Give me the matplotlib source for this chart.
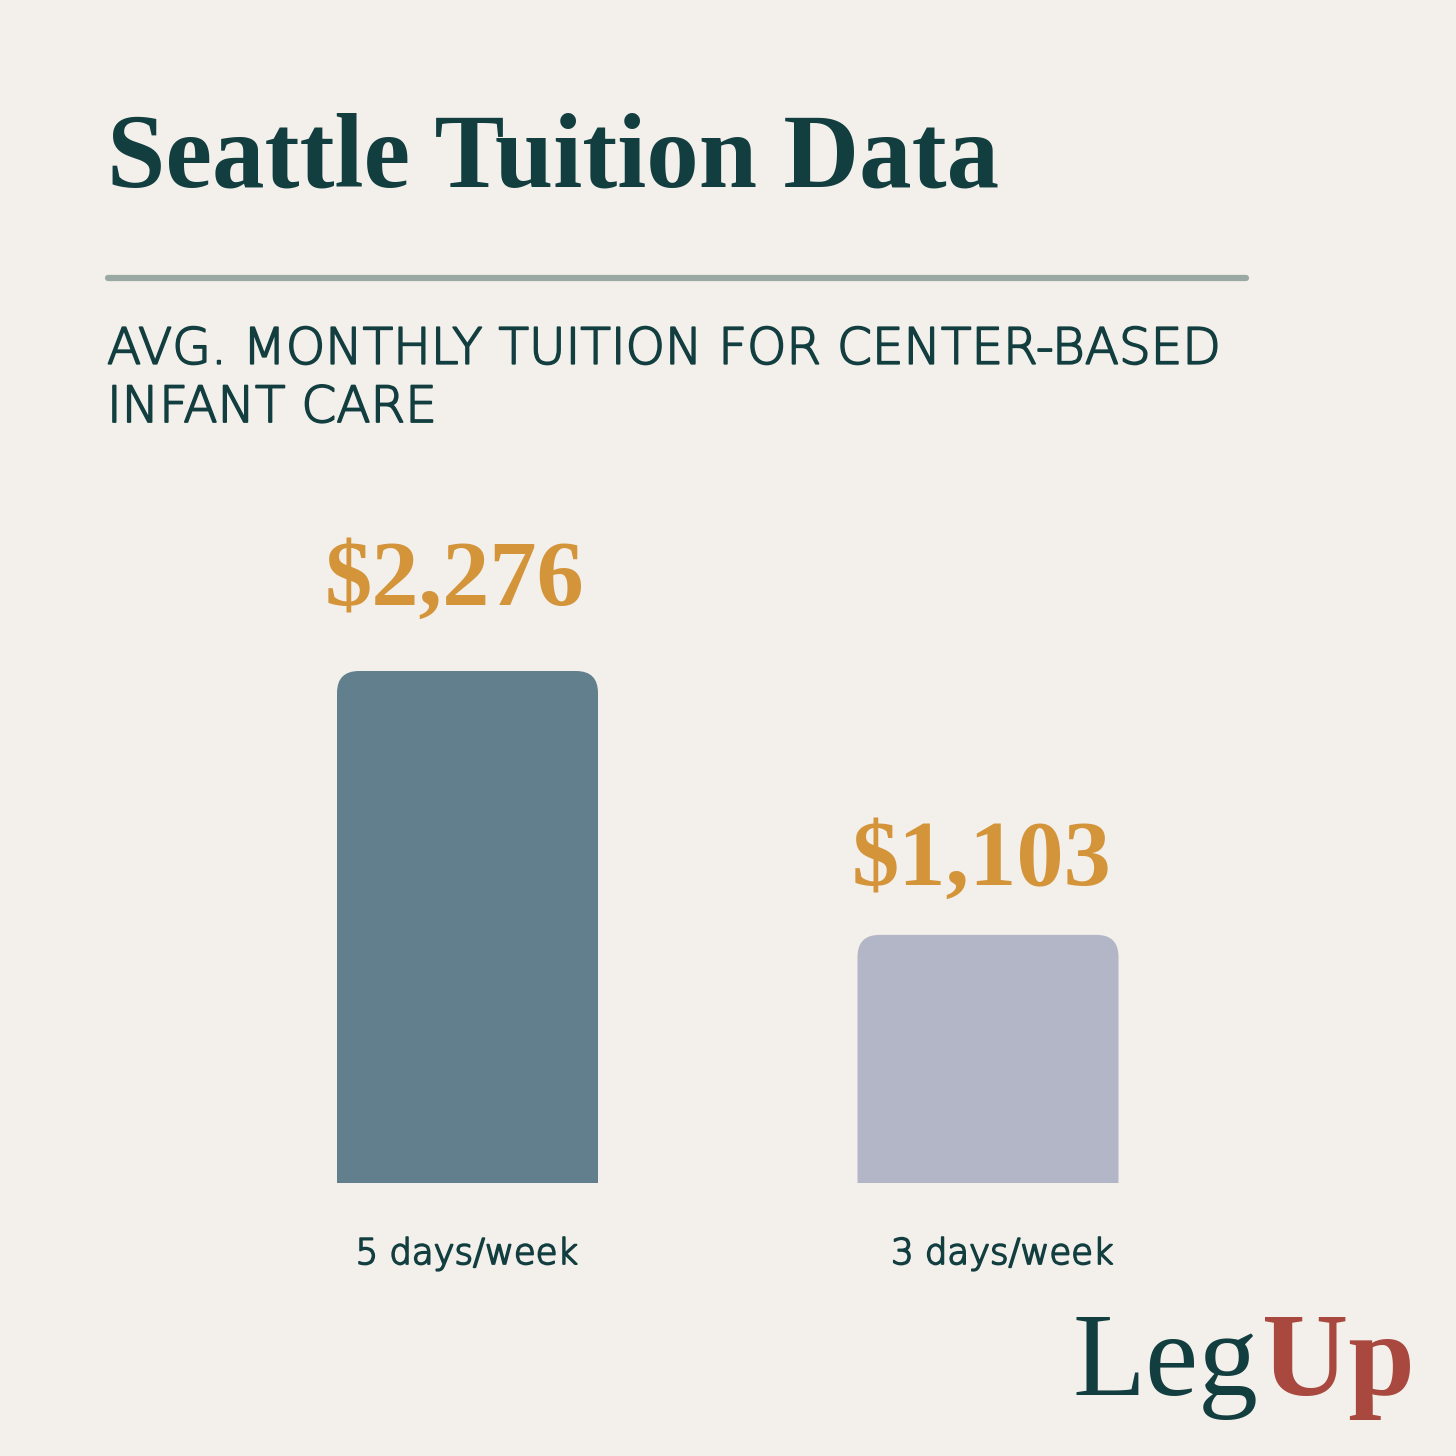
import matplotlib
matplotlib.use("Agg")
import matplotlib.pyplot as plt
import matplotlib.patheffects as pe
from matplotlib.patches import FancyBboxPatch

# data
categories = ["5 days/week", "3 days/week"]
tuition = [2276, 1103]
value_labels = ["$2,276", "$1,103"]
title = "Seattle Tuition Data"
subtitle = "AVG. MONTHLY TUITION FOR CENTER-BASED\nINFANT CARE"

BG = "#F3F0EB"
DARK = "#123E40"
GOLD = "#D4943A"
RED = "#A8483E"
bar_colors = ["#627F8D", "#B3B6C7"]
# label nudges in pixels (x, y above bar top)
value_offsets = [(-13, 66), (-6, 50)]
cat_offsets = [(-1, -81), (14, -81)]

W = H = 1456
fig = plt.figure(figsize=(W / 100, H / 100), dpi=100, facecolor=BG)
thicken = [pe.withStroke(linewidth=1.3, foreground=DARK)]


def px(x, y):
    # pixel coords (top-left origin) -> figure fraction
    return x / W, 1 - y / H


# title, rule and subtitle
fig.text(*px(107, 187), title, fontsize=75.5, fontweight="bold",
         family="Liberation Serif", color=DARK, va="baseline", ha="left")
fig.add_artist(plt.Line2D([108 / W, 1246 / W], [1 - 278 / H] * 2,
                          color="#9BA9A4", lw=4.5, solid_capstyle="round"))
fig.text(*px(107, 422), subtitle, fontsize=36, fontweight="light",
         family="DejaVu Sans", color=DARK, va="baseline", ha="left",
         linespacing=1.27, path_effects=thicken)

# bar axes: bottom at y=1183px, 512px per 2276
ax_left, ax_right = 200, 1256
base_px, top_px = 1183, 500
unit_px = 520.5  # distance between bar centres
px_per_val = 512 / 2276
ymax = (base_px - top_px) / px_per_val
ax = fig.add_axes([ax_left / W, 1 - base_px / H,
                   (ax_right - ax_left) / W, (base_px - top_px) / H])
ax.set_facecolor("none")
x0 = (467.5 - ax_left) / unit_px
ax.set_xlim(-x0, (ax_right - ax_left) / unit_px - x0)
ax.set_ylim(0, ymax)
ax.axis("off")

bar_w = 261 / unit_px
radius_px = 22
r_x = radius_px / unit_px
r_y = radius_px / px_per_val
for i, (v, c) in enumerate(zip(tuition, bar_colors)):
    patch = FancyBboxPatch((i - bar_w / 2, -2 * r_y), bar_w, v + 2 * r_y,
                           boxstyle=f"round,pad=0,rounding_size={r_x}",
                           mutation_aspect=r_y / r_x,
                           fc=c, ec="none")
    ax.add_patch(patch)
    ax.annotate(value_labels[i], (i, v), xytext=value_offsets[i],
                textcoords="offset pixels", ha="center", va="baseline",
                fontsize=68, fontweight="bold", family="Liberation Serif",
                color=GOLD)
    ax.annotate(categories[i], (i, 0), xytext=cat_offsets[i],
                textcoords="offset pixels", ha="center", va="baseline",
                fontsize=25.5, fontweight="light", family="DejaVu Sans",
                color=DARK, annotation_clip=False, path_effects=thicken)

# logo
fig.text(*px(1073, 1395), "Leg", fontsize=86, family="Liberation Serif",
         color=DARK, va="baseline", ha="left")
fig.text(*px(1262, 1395), "Up", fontsize=86, fontweight="bold",
         family="Liberation Serif", color=RED, va="baseline", ha="left")

fig.savefig("out.png", dpi=100, facecolor=BG)
